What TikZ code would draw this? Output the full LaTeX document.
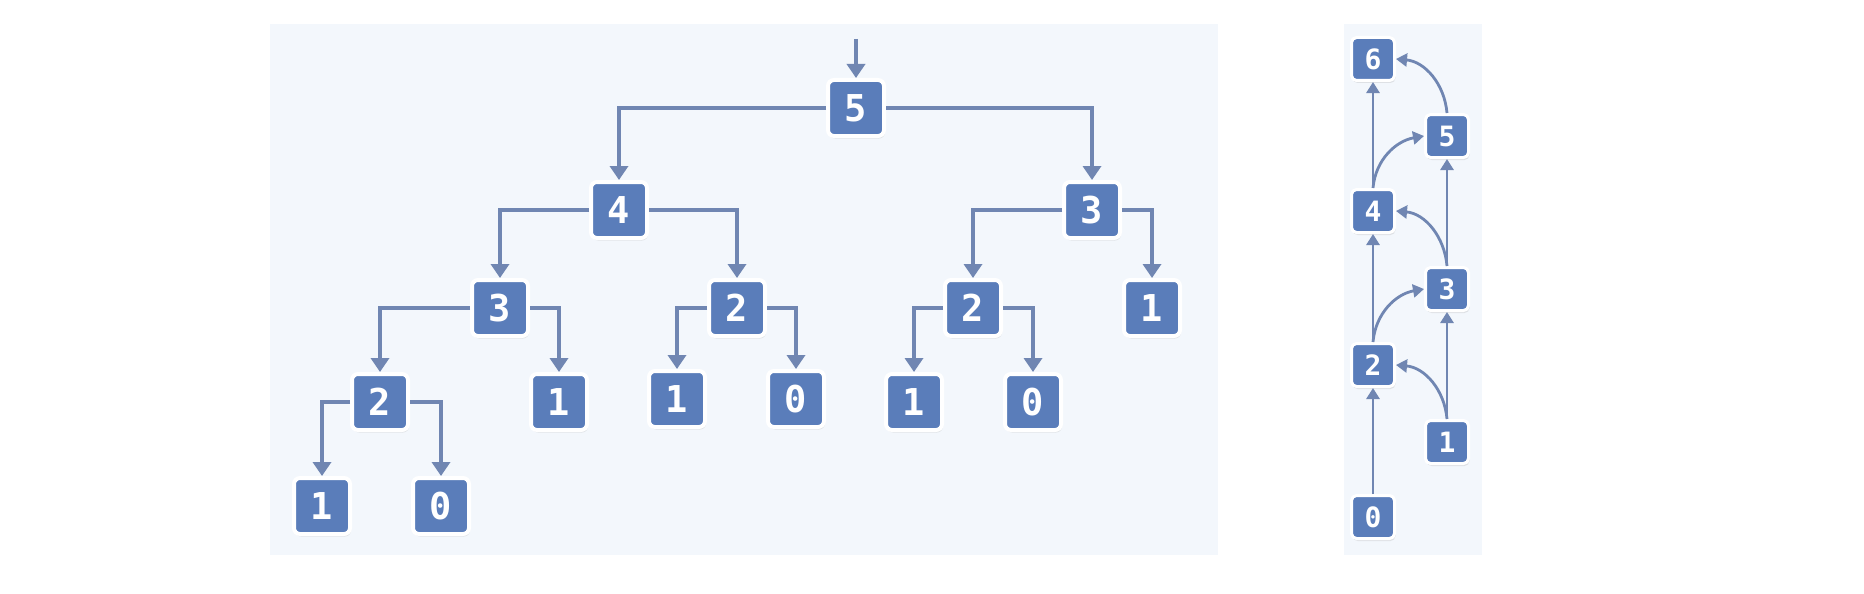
\documentclass[tikz,border=0pt]{standalone}
\usepackage{fontspec}
\newfontfamily\digitfont{DejaVu Sans Mono}
\usetikzlibrary{arrows.meta,shadows}
\definecolor{panelbg}{RGB}{243,247,252}
\definecolor{nodeblue}{RGB}{90,125,186}
\definecolor{edgecol}{RGB}{112,134,178}
\tikzset{
  panel/.style={fill=panelbg, draw=none},
  tnode/.style={rectangle, rounded corners=6pt, fill=nodeblue, draw=white, line width=4pt,
    minimum width=56pt, minimum height=56pt, inner sep=0pt, text=white,
    font=\digitfont\bfseries\fontsize{37}{37}\selectfont,
    drop shadow={opacity=0.18, shadow xshift=1pt, shadow yshift=-2.5pt}},
  rnode/.style={tnode, rounded corners=5pt, line width=3pt,
    minimum width=43pt, minimum height=43pt,
    font=\digitfont\bfseries\fontsize{28}{28}\selectfont},
  edge/.style={draw=edgecol, line width=3.5pt, -{Triangle[length=14pt,width=18pt]}},
  redge/.style={draw=edgecol, line width=2.8pt, -{Triangle[length=11pt,width=13pt]}},
}
\begin{document}
\begin{tikzpicture}[x=1pt,y=1pt]
\useasboundingbox (0,-594) rectangle (1864,0);
\fill[white] (0,-594) rectangle (1864,0);
% panels
\path[panel] (270,-24) rectangle (1218,-555);
\path[panel] (1344,-24) rectangle (1482,-555);

% ---- tree ----
\node[tnode] (n5)   at (856,-108) {5};
\node[tnode] (n4)   at (619,-210) {4};
\node[tnode] (n3r)  at (1092,-210) {3};
\node[tnode] (n3l)  at (500,-308) {3};
\node[tnode] (n2m)  at (737,-308) {2};
\node[tnode] (n2r)  at (973,-308) {2};
\node[tnode] (n1rr) at (1152,-308) {1};
\node[tnode] (n2l)  at (380,-402) {2};
\node[tnode] (n1a)  at (559,-402) {1};
\node[tnode] (n1b)  at (677,-399) {1};
\node[tnode] (n0b)  at (796,-399) {0};
\node[tnode] (n1c)  at (914,-402) {1};
\node[tnode] (n0c)  at (1033,-402) {0};
\node[tnode] (n1d)  at (322,-506) {1};
\node[tnode] (n0d)  at (441,-506) {0};

\coordinate (entry) at (856,-39);
\draw[edge] (entry) -- (n5.north);

\draw[edge] (n5.west) -| (n4.north);
\draw[edge] (n5.east) -| (n3r.north);
\draw[edge] (n4.west) -| (n3l.north);
\draw[edge] (n4.east) -| (n2m.north);
\draw[edge] (n3r.west) -| (n2r.north);
\draw[edge] (n3r.east) -| (n1rr.north);
\draw[edge] (n3l.west) -| (n2l.north);
\draw[edge] (n3l.east) -| (n1a.north);
\draw[edge] (n2m.west) -| (n1b.north);
\draw[edge] (n2m.east) -| (n0b.north);
\draw[edge] (n2r.west) -| (n1c.north);
\draw[edge] (n2r.east) -| (n0c.north);
\draw[edge] (n2l.west) -| (n1d.north);
\draw[edge] (n2l.east) -| (n0d.north);

% ---- right panel ----
\node[rnode] (r6) at (1373,-59) {6};
\node[rnode] (r5) at (1447,-136) {5};
\node[rnode] (r4) at (1373,-211) {4};
\node[rnode] (r3) at (1447,-289) {3};
\node[rnode] (r2) at (1373,-365) {2};
\node[rnode] (r1) at (1447,-442) {1};
\node[rnode] (r0) at (1373,-517) {0};

\draw[redge] (r0.north) -- (r2.south);
\draw[redge] (r2.north) -- (r4.south);
\draw[redge] (r4.north) -- (r6.south);
\draw[redge] (r1.north) -- (r3.south);
\draw[redge] (r3.north) -- (r5.south);
\draw[redge] (r1.north) to[out=95,in=-5] (r2.east);
\draw[redge] (r2.north) to[out=85,in=190] (r3.west);
\draw[redge] (r3.north) to[out=95,in=-5] (r4.east);
\draw[redge] (r4.north) to[out=85,in=190] (r5.west);
\draw[redge] (r5.north) to[out=95,in=-5] (r6.east);
\end{tikzpicture}
\end{document}
